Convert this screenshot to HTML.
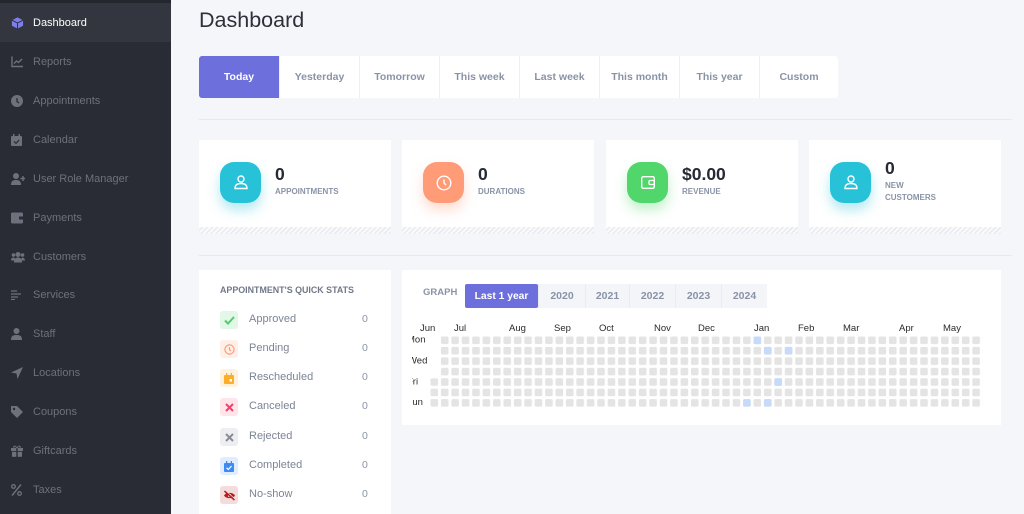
<!DOCTYPE html>
<html style="width:1024px;height:514px;overflow:hidden"><head><meta charset="utf-8">
<style>
*{margin:0;padding:0;box-sizing:border-box}
body{width:1024px;height:514px;overflow:hidden;background:#f5f6fa;font-family:"Liberation Sans",sans-serif;position:relative}
.abs{position:absolute}
#side{left:0;top:0;width:171px;height:514px;background:#292c34}
.si{position:absolute;left:0;width:171px;height:39px;display:flex;align-items:center;color:#6d717b;font-size:11px}
.si svg{position:absolute;left:11px;top:50%;transform:translateY(-50%)}
.si span{position:absolute;left:33px}
.tab{position:absolute;top:56px;height:42px;width:80px;background:#fff;border-left:1px solid #eceff4;display:flex;align-items:center;justify-content:center;font-size:10.5px;font-weight:bold;color:#8a93a6}
.card{position:absolute;top:140px;width:192px;height:87px;background:#fff}
.stripe{position:absolute;top:227px;width:192px;height:7px;background:repeating-linear-gradient(135deg,#f9fafc 0 2px,#e9ebf0 2px 3.5px)}
.ic{position:absolute;left:21px;top:22px;width:41px;height:41px;border-radius:14px;display:flex;align-items:center;justify-content:center}
.num{position:absolute;left:76px;font-size:17.5px;font-weight:bold;color:#262a33}
.lbl{position:absolute;left:76px;font-size:8px;font-weight:bold;color:#8a93a6;line-height:12px}
.row{position:absolute;left:220px;width:150px;height:18px}
.row .b{position:absolute;left:0;top:0;width:18px;height:18px;border-radius:3px;display:flex;align-items:center;justify-content:center}
.row .t{position:absolute;left:29px;top:2px;font-size:11px;color:#7c8494}
.row .v{position:absolute;left:142px;top:2px;font-size:10.5px;color:#8a93a6}
.yb{position:absolute;top:284px;height:24px;background:#f3f5f9;border-left:1px solid #e9ecf2;display:flex;align-items:center;justify-content:center;font-size:10.5px;font-weight:bold;color:#8a93a6}
</style></head><body>

<div id="side" class="abs">
  <div class="abs" style="left:0;top:0;width:171px;height:3px;background:#24272e"></div>
  <div class="si" style="top:3px;background:#33363e;color:#fff">
    <svg width="13" height="13" viewBox="0 0 14 14"><path d="M7 1L13 4V10L7 13L1 10V4Z" fill="#7c7fe9"/><path d="M1 4L7 7L13 4M7 7V13" stroke="#292c34" stroke-width="1" fill="none"/></svg><span>Dashboard</span></div>
  <div class="si" style="top:42px"><svg width="12" height="11" viewBox="0 0 12 11"><path d="M1 0V10H12" stroke="#6d717b" fill="none" stroke-width="1.4"/><path d="M3 7L5.5 4.5L7.5 6L11 2.5" stroke="#6d717b" fill="none" stroke-width="1.4"/></svg><span>Reports</span></div>
  <div class="si" style="top:81px"><svg width="12" height="12" viewBox="0 0 12 12"><circle cx="6" cy="6" r="6" fill="#6d717b"/><path d="M6 3V6.5L8 8" stroke="#292c34" stroke-width="1.3" fill="none"/></svg><span>Appointments</span></div>
  <div class="si" style="top:120px"><svg width="11" height="12" viewBox="0 0 11 12"><rect x="0" y="2" width="11" height="10" rx="1" fill="#6d717b"/><rect x="2" y="0" width="1.5" height="3" fill="#6d717b"/><rect x="7.5" y="0" width="1.5" height="3" fill="#6d717b"/><path d="M3 7.5L5 9.3L8.2 6" stroke="#292c34" stroke-width="1.2" fill="none"/></svg><span>Calendar</span></div>
  <div class="si" style="top:159px"><svg width="14" height="12" viewBox="0 0 14 12"><circle cx="5" cy="3" r="3" fill="#6d717b"/><path d="M0 12C0 8 2 7 5 7S10 8 10 12Z" fill="#6d717b"/><path d="M12 3V8M9.5 5.5H14" stroke="#6d717b" stroke-width="1.4"/></svg><span>User Role Manager</span></div>
  <div class="si" style="top:198px"><svg width="12" height="11" viewBox="0 0 12 11"><rect width="12" height="11" rx="1.5" fill="#6d717b"/><rect x="8" y="4" width="4" height="3" fill="#292c34"/></svg><span>Payments</span></div>
  <div class="si" style="top:237px"><svg width="14" height="11" viewBox="0 0 14 11"><circle cx="7" cy="3" r="2.5" fill="#6d717b"/><circle cx="2.5" cy="3.5" r="1.8" fill="#6d717b"/><circle cx="11.5" cy="3.5" r="1.8" fill="#6d717b"/><path d="M3 11C3 7 5 6 7 6S11 7 11 11Z" fill="#6d717b"/><path d="M0 9C0 7 1 6 2.5 6S4 7 4 9Z" fill="#6d717b"/><path d="M10 9C10 7 11 6 11.5 6S14 7 14 9Z" fill="#6d717b"/></svg><span>Customers</span></div>
  <div class="si" style="top:275px"><svg width="11" height="10" viewBox="0 0 11 10"><path d="M0 1H6M0 4H10M0 7H7M0 9.5H4" stroke="#6d717b" stroke-width="1.3"/></svg><span>Services</span></div>
  <div class="si" style="top:314px"><svg width="11" height="12" viewBox="0 0 11 12"><circle cx="5.5" cy="3" r="3" fill="#6d717b"/><path d="M0 12C0 8 2 7 5.5 7S11 8 11 12Z" fill="#6d717b"/></svg><span>Staff</span></div>
  <div class="si" style="top:353px"><svg width="12" height="12" viewBox="0 0 12 12"><path d="M12 0L0 5.5L5.5 6.5L6.5 12Z" fill="#6d717b"/></svg><span>Locations</span></div>
  <div class="si" style="top:392px"><svg width="12" height="12" viewBox="0 0 12 12"><path d="M0 0H6L12 6L6 12L0 6Z" fill="#6d717b"/><circle cx="3" cy="3" r="1.2" fill="#292c34"/></svg><span>Coupons</span></div>
  <div class="si" style="top:431px"><svg width="12" height="12" viewBox="0 0 12 12"><rect x="0" y="3" width="12" height="3" fill="#6d717b"/><rect x="1" y="6.8" width="10" height="5" fill="#6d717b"/><rect x="5.3" y="3" width="1.4" height="9" fill="#292c34"/><path d="M6 3C4 0 2 1 3 3M6 3C8 0 10 1 9 3" stroke="#6d717b" fill="none"/></svg><span>Giftcards</span></div>
  <div class="si" style="top:470px"><svg width="11" height="12" viewBox="0 0 11 12"><circle cx="2.5" cy="2.5" r="1.8" stroke="#6d717b" stroke-width="1.3" fill="none"/><circle cx="8.5" cy="9.5" r="1.8" stroke="#6d717b" stroke-width="1.3" fill="none"/><path d="M10 0.5L1 11.5" stroke="#6d717b" stroke-width="1.4"/></svg><span>Taxes</span></div>
</div>

<div class="abs" style="left:199px;top:8px;font-size:21.5px;color:#2d3038">Dashboard</div>

<div class="tab" style="left:199px;background:#6c6fdc;color:#fff;border-left:none;border-radius:3px 0 0 3px">Today</div>
<div class="tab" style="left:279px">Yesterday</div>
<div class="tab" style="left:359px">Tomorrow</div>
<div class="tab" style="left:439px">This week</div>
<div class="tab" style="left:519px">Last week</div>
<div class="tab" style="left:599px">This month</div>
<div class="tab" style="left:679px">This year</div>
<div class="tab" style="left:759px;width:79px;border-radius:0 3px 3px 0">Custom</div>

<div class="abs" style="left:199px;top:119px;width:813px;height:1px;background:#e6e9ef"></div>

<!-- stat cards -->
<div class="card" style="left:199px">
  <div class="ic" style="background:#27c1d8;box-shadow:0 7px 12px rgba(39,193,216,.35)"><svg width="14" height="15" viewBox="0 0 14 15"><circle cx="7" cy="4" r="3" stroke="#fff" stroke-width="1.4" fill="none"/><path d="M1 13.5C1 9.5 3.5 8.5 7 8.5S13 9.5 13 13.5Z" stroke="#fff" stroke-width="1.4" fill="none"/></svg></div>
  <div class="num" style="top:24px">0</div>
  <div class="lbl" style="top:46px">APPOINTMENTS</div>
</div>
<div class="stripe" style="left:199px"></div>
<div class="card" style="left:402px">
  <div class="ic" style="background:#ff9b77;box-shadow:0 7px 12px rgba(255,155,119,.35)"><svg width="16" height="16" viewBox="0 0 16 16"><circle cx="8" cy="8" r="6.8" stroke="#fff" stroke-width="1.4" fill="none"/><path d="M8 4.5V8L10 10" stroke="#fff" stroke-width="1.4" fill="none"/></svg></div>
  <div class="num" style="top:24px">0</div>
  <div class="lbl" style="top:46px">DURATIONS</div>
</div>
<div class="stripe" style="left:402px"></div>
<div class="card" style="left:606px">
  <div class="ic" style="background:#50d66b;box-shadow:0 7px 12px rgba(80,214,107,.35)"><svg width="14" height="13" viewBox="0 0 14 13"><rect x="0.7" y="0.7" width="12.6" height="11.6" rx="1.5" stroke="#fff" stroke-width="1.4" fill="none"/><rect x="8" y="4.5" width="5.3" height="4" rx="1" stroke="#fff" stroke-width="1.3" fill="none"/></svg></div>
  <div class="num" style="top:24px">$0.00</div>
  <div class="lbl" style="top:46px">REVENUE</div>
</div>
<div class="stripe" style="left:606px"></div>
<div class="card" style="left:809px">
  <div class="ic" style="background:#27c1d8;box-shadow:0 7px 12px rgba(39,193,216,.35)"><svg width="14" height="15" viewBox="0 0 14 15"><circle cx="7" cy="4" r="3" stroke="#fff" stroke-width="1.4" fill="none"/><path d="M1 13.5C1 9.5 3.5 8.5 7 8.5S13 9.5 13 13.5Z" stroke="#fff" stroke-width="1.4" fill="none"/></svg></div>
  <div class="num" style="top:18px">0</div>
  <div class="lbl" style="top:40px">NEW<br>CUSTOMERS</div>
</div>
<div class="stripe" style="left:809px"></div>

<div class="abs" style="left:199px;top:255px;width:813px;height:1px;background:#e6e9ef"></div>

<!-- quick stats -->
<div class="abs" style="left:199px;top:270px;width:192px;height:244px;background:#fff"></div>
<div class="abs" style="left:220px;top:285px;font-size:8.9px;font-weight:bold;color:#707888">APPOINTMENT'S QUICK STATS</div>

<div class="row" style="top:311px"><div class="b" style="background:#e2f7e6"><svg width="11" height="9" viewBox="0 0 11 9"><path d="M1 4.5L4 7.5L10 1" stroke="#4fcf69" stroke-width="2" fill="none"/></svg></div><div class="t">Approved</div><div class="v">0</div></div>
<div class="row" style="top:340px"><div class="b" style="background:#ffefe9"><svg width="11" height="11" viewBox="0 0 11 11"><circle cx="5.5" cy="5.5" r="4.6" stroke="#ff9b77" stroke-width="1.2" fill="none"/><path d="M5.5 3V5.8L7 7" stroke="#ff9b77" stroke-width="1.2" fill="none"/></svg></div><div class="t">Pending</div><div class="v">0</div></div>
<div class="row" style="top:369px"><div class="b" style="background:#fff1da"><svg width="10" height="11" viewBox="0 0 10 11"><rect x="0" y="2" width="10" height="9" rx="1" fill="#fbae2c"/><rect x="2" y="0" width="1.3" height="3" fill="#fbae2c"/><rect x="6.7" y="0" width="1.3" height="3" fill="#fbae2c"/><rect x="5.5" y="6" width="2.5" height="2.5" fill="#fff"/></svg></div><div class="t">Rescheduled</div><div class="v">0</div></div>
<div class="row" style="top:398px"><div class="b" style="background:#ffe4ea"><svg width="9" height="9" viewBox="0 0 9 9"><path d="M1 1L8 8M8 1L1 8" stroke="#f3406c" stroke-width="2"/></svg></div><div class="t">Canceled</div><div class="v">0</div></div>
<div class="row" style="top:428px"><div class="b" style="background:#eceef1"><svg width="9" height="9" viewBox="0 0 9 9"><path d="M1 1L8 8M8 1L1 8" stroke="#878c96" stroke-width="2"/></svg></div><div class="t">Rejected</div><div class="v">0</div></div>
<div class="row" style="top:457px"><div class="b" style="background:#dfedff"><svg width="10" height="11" viewBox="0 0 10 11"><rect x="0" y="2" width="10" height="9" rx="1" fill="#3b8bf3"/><rect x="2" y="0" width="1.3" height="3" fill="#3b8bf3"/><rect x="6.7" y="0" width="1.3" height="3" fill="#3b8bf3"/><path d="M2.5 6.8L4.3 8.5L7.5 5" stroke="#fff" stroke-width="1.2" fill="none"/></svg></div><div class="t">Completed</div><div class="v">0</div></div>
<div class="row" style="top:486px"><div class="b" style="background:#f5dcdc"><svg width="13" height="11" viewBox="0 0 13 11"><path d="M1 5.5C3 2 10 2 12 5.5C10 9 3 9 1 5.5Z" fill="#b51d1d"/><circle cx="6.5" cy="5.5" r="1.6" fill="#f5dcdc"/><path d="M1.5 1L11.5 10" stroke="#b51d1d" stroke-width="1.6"/><path d="M2.3 0.3L12.3 9.3" stroke="#f5dcdc" stroke-width="0.7"/></svg></div><div class="t">No-show</div><div class="v">0</div></div>

<!-- graph card -->
<div class="abs" style="left:402px;top:270px;width:599px;height:155px;background:#fff"></div>
<div class="abs" style="left:423px;top:287px;font-size:9.5px;font-weight:bold;color:#8a93a6">GRAPH</div>
<div class="yb" style="left:465px;width:73px;background:#6c6fdc;color:#fff;border-left:none;border-radius:2px;font-size:10.3px">Last 1 year</div>
<div class="yb" style="left:538px;width:47px">2020</div>
<div class="yb" style="left:585px;width:44px">2021</div>
<div class="yb" style="left:629px;width:46px">2022</div>
<div class="yb" style="left:675px;width:46px">2023</div>
<div class="yb" style="left:721px;width:46px">2024</div>

<svg class="abs" style="left:0;top:0" width="1024" height="514" viewBox="0 0 1024 514">
  <defs>
    <pattern id="cp" x="430.5" y="336.5" width="10.42" height="10.43" patternUnits="userSpaceOnUse">
      <rect width="7.6" height="7.6" rx="1.5" fill="#e4e4e4"/>
    </pattern>
    <clipPath id="dc"><rect x="412" y="320" width="20" height="100"/></clipPath>
  </defs>
  <rect x="440.92" y="336.5" width="541.84" height="73.01" fill="url(#cp)"/>
  <rect x="430.5" y="378.22" width="10.42" height="31.29" fill="url(#cp)"/>
  <g fill="#c6daf9">
    <rect x="753.52" y="336.5" width="7.6" height="7.6" rx="1.5"/>
    <rect x="763.94" y="346.93" width="7.6" height="7.6" rx="1.5"/>
    <rect x="784.78" y="346.93" width="7.6" height="7.6" rx="1.5"/>
    <rect x="774.36" y="378.22" width="7.6" height="7.6" rx="1.5"/>
    <rect x="743.1" y="399.08" width="7.6" height="7.6" rx="1.5"/>
    <rect x="763.94" y="399.08" width="7.6" height="7.6" rx="1.5"/>
  </g>
  <g font-family="Liberation Sans, sans-serif" font-size="9.5" fill="#2a2a2a">
    <text x="420" y="331">Jun</text>
    <text x="454" y="331">Jul</text>
    <text x="509" y="331">Aug</text>
    <text x="554" y="331">Sep</text>
    <text x="599" y="331">Oct</text>
    <text x="654" y="331">Nov</text>
    <text x="698" y="331">Dec</text>
    <text x="754" y="331">Jan</text>
    <text x="798" y="331">Feb</text>
    <text x="843" y="331">Mar</text>
    <text x="899" y="331">Apr</text>
    <text x="943" y="331">May</text>
    <g clip-path="url(#dc)">
      <text x="407" y="342.5">Mon</text>
      <text x="408" y="363.5">Wed</text>
      <text x="407" y="384.5">Fri</text>
      <text x="406" y="405">Sun</text>
    </g>
  </g>
</svg>
</body></html>
